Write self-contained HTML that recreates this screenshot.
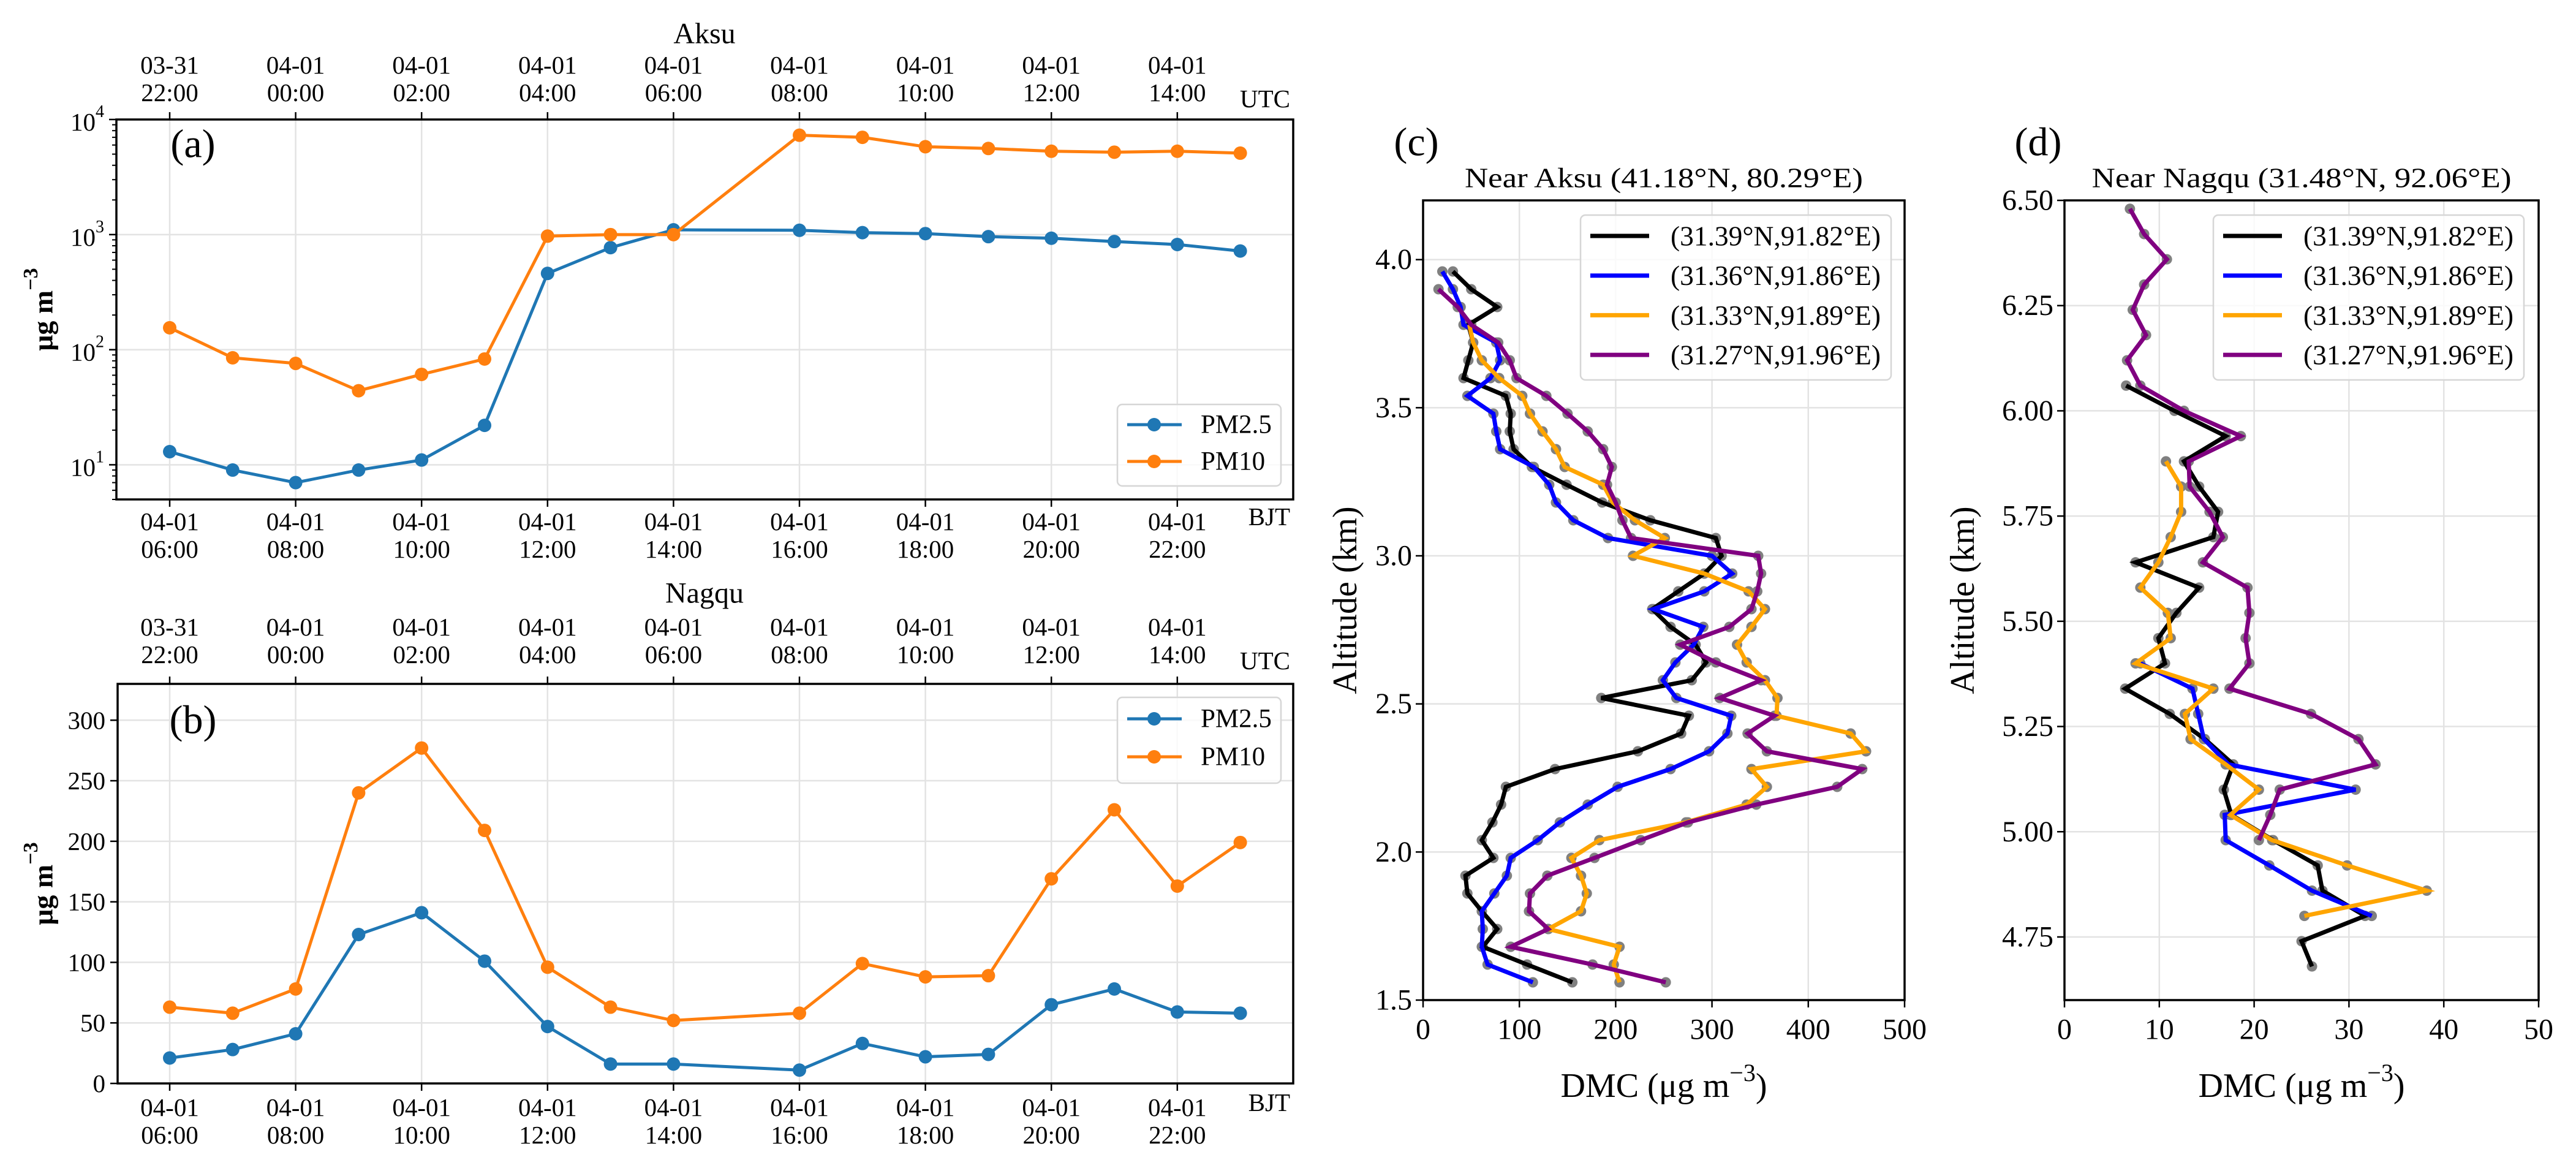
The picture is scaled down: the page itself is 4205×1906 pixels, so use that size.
<!DOCTYPE html>
<html><head><meta charset="utf-8"><style>
html,body{margin:0;padding:0;background:#fff;}
svg{display:block;font-family:"Liberation Serif","DejaVu Serif",serif;}
</style></head><body>
<svg id="fig" width="4205" height="1906" viewBox="0 0 4205 1906" xmlns="http://www.w3.org/2000/svg"></svg>
<script>
// ---------- Data: panels (a) and (b) ----------
const hourIdx = [0,1,2,3,4,5,6,7,8,10,11,12,13,14,15,16,17];
const aksuPM25 = [13,9,7,9,11,22,460,770,1100,1090,1040,1020,960,930,870,820,720];
const aksuPM10 = [155,85,76,44,61,83,970,1000,1000,7300,7000,5800,5600,5300,5200,5300,5100];
const nagquPM25 = [21,28,41,123,141,101,47,16,16,11,33,22,24,65,78,59,58];
const nagquPM10 = [63,58,78,240,277,209,96,63,52,58,99,88,89,169,226,163,199];
const tickIdx = [0,2,4,6,8,10,12,14,16];
const utcTop = ["03-31","04-01","04-01","04-01","04-01","04-01","04-01","04-01","04-01"];
const utcBot = ["22:00","00:00","02:00","04:00","06:00","08:00","10:00","12:00","14:00"];
const bjtTop = ["04-01","04-01","04-01","04-01","04-01","04-01","04-01","04-01","04-01"];
const bjtBot = ["06:00","08:00","10:00","12:00","14:00","16:00","18:00","20:00","22:00"];
const logTicks = [1,2,3,4];
const linTicksB = [0,50,100,150,200,250,300];

// ---------- Data: panel (c) ----------
const cBlackAlt = [3.96,3.90,3.84,3.78,3.72,3.66,3.60,3.54,3.48,3.42,3.36,3.30,3.24,3.18,3.12,3.06,3.00,2.94,2.88,2.82,2.76,2.70,2.64,2.58,2.52,2.46,2.40,2.34,2.28,2.22,2.16,2.10,2.04,1.98,1.92,1.86,1.80,1.74,1.68,1.62,1.56];
const cBlackVal = [31,50,77,47,52,47,42,86,91,90,94,113,149,186,236,304,310,292,265,238,257,283,294,279,185,276,268,223,137,86,81,72,61,73,44,46,61,77,62,108,155];
const cBlueAlt = [3.96,3.90,3.84,3.78,3.72,3.66,3.60,3.54,3.48,3.42,3.36,3.30,3.24,3.18,3.12,3.06,3.00,2.94,2.88,2.82,2.76,2.70,2.64,2.58,2.52,2.46,2.40,2.34,2.28,2.22,2.16,2.10,2.04,1.98,1.92,1.86,1.80,1.74,1.68,1.62,1.56];
const cBlueVal = [20,31,39,42,76,80,70,46,73,76,80,115,131,138,156,192,300,321,292,239,291,281,262,249,263,320,316,297,257,202,171,142,119,91,87,74,61,62,61,67,114];
const cOrangeAlt = [3.78,3.72,3.66,3.60,3.54,3.48,3.42,3.36,3.30,3.24,3.18,3.12,3.06,3.00,2.94,2.88,2.82,2.76,2.70,2.64,2.58,2.52,2.46,2.40,2.34,2.28,2.22,2.16,2.10,2.04,1.98,1.92,1.86,1.80,1.74,1.68,1.62,1.56];
const cOrangeVal = [48,52,61,79,103,111,124,138,147,187,197,220,251,218,292,338,355,341,326,336,355,368,367,444,460,341,357,336,273,183,154,164,170,164,130,204,198,204];
const cPurpleAlt = [3.90,3.84,3.78,3.72,3.66,3.60,3.54,3.48,3.42,3.36,3.30,3.24,3.18,3.12,3.06,3.00,2.94,2.88,2.82,2.76,2.70,2.64,2.58,2.52,2.46,2.40,2.34,2.28,2.22,2.16,2.10,2.04,1.98,1.92,1.86,1.80,1.74,1.68,1.62,1.56];
const cPurpleVal = [16,36,50,78,90,97,128,150,171,187,196,191,200,207,216,348,351,347,341,318,267,304,351,308,365,337,357,456,430,346,275,226,178,129,111,110,130,91,176,252];
const cXTicks = [0,100,200,300,400,500];
const cYTicks = [1.5,2.0,2.5,3.0,3.5,4.0];

// ---------- Data: panel (d) ----------
const dBlackAlt = [6.06,6.00,5.94,5.88,5.82,5.76,5.70,5.64,5.58,5.52,5.46,5.40,5.34,5.28,5.22,5.16,5.10,5.04,4.98,4.92,4.86,4.80,4.74,4.68];
const dBlackVal = [6.5,11.6,17.0,12.6,14.2,16.2,15.7,7.5,14.2,11.8,9.9,10.6,6.4,11.1,14.8,17.8,16.8,17.6,22.0,26.7,27.2,31.7,25.0,26.1];
const dBlueAlt = [5.40,5.34,5.28,5.22,5.16,5.10,5.04,4.98,4.92,4.86,4.80];
const dBlueVal = [8.0,13.5,14.1,14.7,17.3,30.7,16.9,17.0,21.6,26.1,32.4];
const dOrangeAlt = [5.88,5.82,5.76,5.70,5.64,5.58,5.52,5.46,5.40,5.34,5.28,5.22,5.16,5.10,5.04,4.98,4.92,4.86,4.80];
const dOrangeVal = [10.7,12.3,12.3,11.2,9.9,8.0,10.9,11.2,7.5,15.7,12.7,13.3,17.0,20.5,17.5,21.9,29.8,38.2,25.3];
const dPurpleAlt = [6.48,6.42,6.36,6.30,6.24,6.18,6.12,6.06,6.00,5.94,5.88,5.82,5.76,5.70,5.64,5.58,5.52,5.46,5.40,5.34,5.28,5.22,5.16,5.10,5.04,4.98];
const dPurpleVal = [6.9,8.4,10.8,8.4,7.2,8.6,6.6,8.0,12.6,18.6,13.1,13.2,15.3,16.7,14.6,19.3,19.5,19.1,19.5,17.4,26.0,31.0,32.8,22.7,21.7,20.5];
const dXTicks = [0,10,20,30,40,50];
const dYTicks = [4.75,5.00,5.25,5.50,5.75,6.00,6.25,6.50];

const legendLabels = ["(31.39°N,91.82°E)","(31.36°N,91.86°E)","(31.33°N,91.89°E)","(31.27°N,91.96°E)"];
const profColors = ["#000000","#0000ff","#ffa500","#800080"];

const NS = "http://www.w3.org/2000/svg";
const svg = document.getElementById('fig');
function mk(tag, attrs, name, parent) {
  const el = document.createElementNS(NS, tag);
  for (const k in attrs) el.setAttribute(k, attrs[k]);
  
  
  (parent || svg).appendChild(el);
  return el;
}
function txt(x, y, s, size, name, opts) {
  opts = opts || {};
  const a = {x:x, y:y, 'font-size':size, fill:'#000', 'text-anchor':opts.anchor||'middle', 'dominant-baseline':opts.base||'central'};
  if (opts.weight) a['font-weight'] = opts.weight;
  if (opts.rot) a.transform = 'rotate(' + opts.rot + ' ' + x + ' ' + y + ')';
  if (opts.len) { a.textLength = opts.len; a.lengthAdjust = 'spacingAndGlyphs'; }
  const t = mk('text', a, name, opts.parent);
  t.textContent = s;
  return t;
}
function line(x1,y1,x2,y2,stroke,w,name) {
  return mk('line',{x1:x1,y1:y1,x2:x2,y2:y2,stroke:stroke,'stroke-width':w},name);
}

// ---------- time panels ----------
function timePanel(cfg) {
  const L=cfg.L, R=cfg.R, T=cfg.T, B=cfg.B;
  const xs = i => 277 + i*102.8;
  const ys = cfg.ys;
  tickIdx.forEach(i => line(xs(i),T,xs(i),B,'#e3e3e3',2.5,'x-gridline'));
  cfg.gridVals.forEach(v => line(L,ys(v),R,ys(v),'#e3e3e3',2.5,'y-gridline'));
  const series = [[cfg.pm25,'#1f77b4','pm25'],[cfg.pm10,'#ff7f0e','pm10']];
  series.forEach(([vals,col,nm]) => {
    const pts = vals.map((v,k)=> xs(hourIdx[k]) + ',' + ys(v)).join(' ');
    mk('polyline',{points:pts,fill:'none',stroke:col,'stroke-width':5,'stroke-linejoin':'round'},nm+'-line');
    vals.forEach((v,k)=> mk('circle',{cx:xs(hourIdx[k]),cy:ys(v),r:11,fill:col},nm+'-point'));
  });
  mk('rect',{x:L,y:T,width:R-L,height:B-T,fill:'none',stroke:'#000','stroke-width':3.5},'plot-frame');
  tickIdx.forEach((i,k) => {
    line(xs(i),T,xs(i),T-12,'#000',2.5,'top-tick');
    line(xs(i),B,xs(i),B+12,'#000',2.5,'bottom-tick');
    txt(xs(i),cfg.utcY1,utcTop[k],41,'utc-tick-label');
    txt(xs(i),cfg.utcY1+45,utcBot[k],41,'utc-tick-label');
    txt(xs(i),cfg.bjtY1,bjtTop[k],41,'bjt-tick-label');
    txt(xs(i),cfg.bjtY1+45,bjtBot[k],41,'bjt-tick-label');
  });
  txt(R-5,cfg.utcY1+55,'UTC',41,'utc-label',{anchor:'end'});
  txt(R-5,cfg.bjtY1-8,'BJT',41,'bjt-label',{anchor:'end'});
  txt(1150,cfg.titleY,cfg.title,48,'panel-title');
  txt(315,cfg.letterY,cfg.letter,66,'panel-letter');
  const yl = mk('text',{x:70,y:(T+B)/2,'font-size':46,'font-weight':'bold','text-anchor':'middle','dominant-baseline':'central',transform:'rotate(-90 70 '+((T+B)/2)+')'},'y-axis-title');
  yl.textContent = 'μg m';
  const sup = mk('tspan',{dy:-20,'font-size':34},'y-axis-title-exponent',yl);
  sup.textContent = '−3';
  cfg.yTickDraw();
  const lg = cfg.legend;
  mk('rect',{x:lg.x,y:lg.y,width:267,height:lg.h,rx:8,fill:'#fff','fill-opacity':0.8,stroke:'#d6d6d6','stroke-width':2.5},'legend-box');
  [['PM2.5','#1f77b4',lg.r1],['PM10','#ff7f0e',lg.r2]].forEach(([lab,col,yy]) => {
    line(1840,yy,1929,yy,col,5,'legend-line');
    mk('circle',{cx:1884,cy:yy,r:11,fill:col},'legend-marker');
    txt(1960,yy,lab,43,'legend-entry',{anchor:'start'});
  });
}

const aT=195, aB=815, lmin=Math.log10(5);
const ysA = v => aB - (Math.log10(v)-lmin)/(4-lmin)*(aB-aT);
timePanel({L:190,R:2111,T:aT,B:aB,ys:ysA,gridVals:[10,100,1000],pm25:aksuPM25,pm10:aksuPM10,
  utcY1:106,bjtY1:851,titleY:55,title:'Aksu',letter:'(a)',letterY:235,
  legend:{x:1824,y:660,h:133,r1:693,r2:753},
  yTickDraw:function(){
    logTicks.forEach(p => {
      const y = ysA(Math.pow(10,p));
      line(190,y,178,y,'#000',2.5,'y-tick');
      const t = txt(170,y+4,'10',41,'y-tick-label',{anchor:'end'});
      const s = mk('tspan',{dy:-17,'font-size':28},'y-tick-exponent',t); s.textContent = String(p);
    });
    for (let p=0;p<4;p++) for (let m=2;m<10;m++) {
      const v=m*Math.pow(10,p); if (v<5||v>10000) continue;
      const y=ysA(v); line(190,y,183,y,'#000',2,'y-minor-tick');
    }
  }});

const bT=1116, bB=1768;
const ysB = v => bB - v/330*(bB-bT);
timePanel({L:192,R:2111,T:bT,B:bB,ys:ysB,gridVals:[50,100,150,200,250,300],pm25:nagquPM25,pm10:nagquPM10,
  utcY1:1023,bjtY1:1807,titleY:968,title:'Nagqu',letter:'(b)',letterY:1175,
  legend:{x:1824,y:1138,h:140,r1:1173,r2:1235},
  yTickDraw:function(){
    linTicksB.forEach(v => {
      const y=ysB(v);
      line(192,y,180,y,'#000',2.5,'y-tick');
      txt(172,y,String(v),41,'y-tick-label',{anchor:'end'});
    });
  }});

// ---------- profile panels ----------
function profPanel(cfg) {
  const L=cfg.L,R=cfg.R,T=327,B=1632;
  const xs = v => L + (v-cfg.x0)/(cfg.x1-cfg.x0)*(R-L);
  const ys = a => B - (a-cfg.y0)/(cfg.y1-cfg.y0)*(B-T);
  cfg.xt.forEach(v => line(xs(v),T,xs(v),B,'#e3e3e3',2.5,'x-gridline'));
  cfg.yt.forEach(v => line(L,ys(v),R,ys(v),'#e3e3e3',2.5,'y-gridline'));
  cfg.series.forEach(([alt,val],k) => {
    val.forEach((v,i)=> mk('circle',{cx:xs(v),cy:ys(alt[i]),r:8.5,fill:'#808080'},'profile-point'));
  });
  cfg.series.forEach(([alt,val],k) => {
    const pts = val.map((v,i)=> xs(v)+','+ys(alt[i])).join(' ');
    mk('polyline',{points:pts,fill:'none',stroke:profColors[k],'stroke-width':7,'stroke-linejoin':'miter'},'profile-line-'+k);
  });
  mk('rect',{x:L,y:T,width:R-L,height:B-T,fill:'none',stroke:'#000','stroke-width':3.5},'plot-frame');
  cfg.xt.forEach(v => { line(xs(v),B,xs(v),B+12,'#000',2.5,'x-tick'); txt(xs(v),1680,String(v),48,'x-tick-label'); });
  cfg.yt.forEach(v => { line(L,ys(v),L-12,ys(v),'#000',2.5,'y-tick'); txt(L-18,ys(v),v.toFixed(cfg.dec),48,'y-tick-label',{anchor:'end'}); });
  txt((L+R)/2,290,cfg.title,46,'panel-title',{len:cfg.titleLen});
  txt(cfg.letterX,232,cfg.letter,66,'panel-letter');
  txt(cfg.ylabX,(T+B)/2,'Altitude (km)',56,'y-axis-title',{rot:-90});
  const xl = mk('text',{x:(L+R)/2,y:1772,'font-size':56,'text-anchor':'middle','dominant-baseline':'central'},'x-axis-title');
  xl.appendChild(document.createTextNode('DMC (μg m'));
  const s1 = mk('tspan',{dy:-22,'font-size':40},'x-axis-title-exponent',xl); s1.textContent='−3';
  const s2 = mk('tspan',{dy:22},'x-axis-title-end',xl); s2.textContent=')';
  const lx = cfg.legX;
  mk('rect',{x:lx,y:351,width:507,height:269,rx:8,fill:'#fff','fill-opacity':0.8,stroke:'#d6d6d6','stroke-width':2.5},'legend-box');
  legendLabels.forEach((lab,k) => {
    const yy = 385 + k*64.7;
    line(lx+16,yy,lx+112,yy,profColors[k],7,'legend-line');
    txt(lx+147,yy,lab,46,'legend-entry',{anchor:'start',len:343});
  });
}
profPanel({L:2323,R:3109,x0:0,x1:500,y0:1.5,y1:4.2,xt:cXTicks,yt:cYTicks,dec:1,
  series:[[cBlackAlt,cBlackVal],[cBlueAlt,cBlueVal],[cOrangeAlt,cOrangeVal],[cPurpleAlt,cPurpleVal]],
  title:'Near Aksu (41.18°N, 80.29°E)',titleLen:650,letter:'(c)',letterX:2312,ylabX:2196,legX:2580});
profPanel({L:3370,R:4144,x0:0,x1:50,y0:4.6,y1:6.5,xt:dXTicks,yt:dYTicks,dec:2,
  series:[[dBlackAlt,dBlackVal],[dBlueAlt,dBlueVal],[dOrangeAlt,dOrangeVal],[dPurpleAlt,dPurpleVal]],
  title:'Near Nagqu (31.48°N, 92.06°E)',titleLen:685,letter:'(d)',letterX:3327,ylabX:3204,legX:3613});
</script>
</body></html>
